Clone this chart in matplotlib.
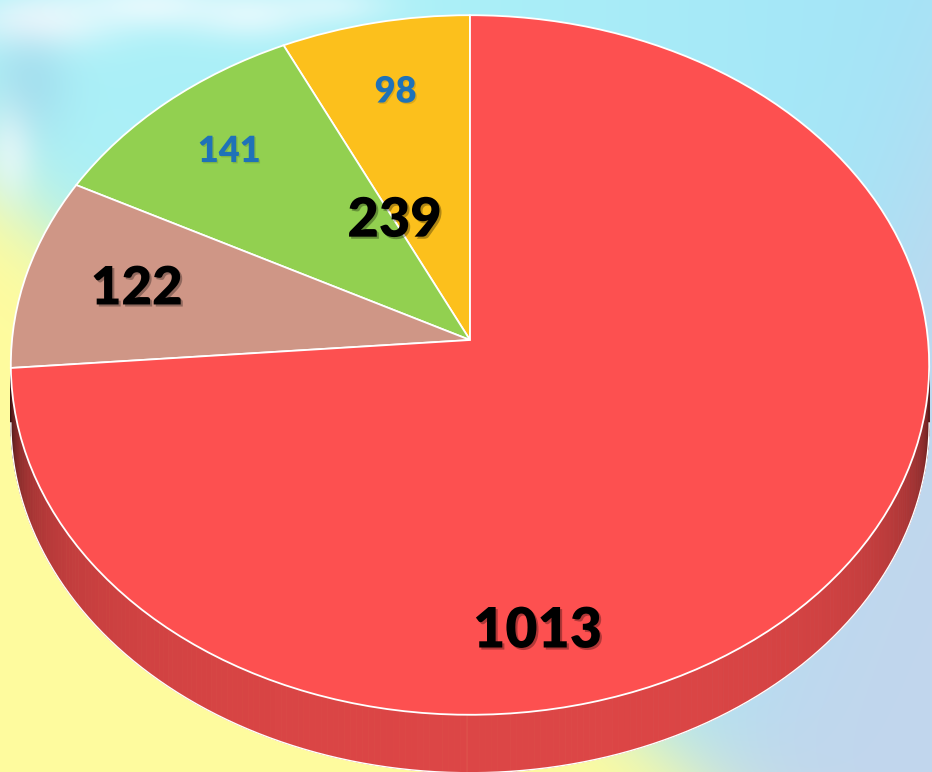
import numpy as np
import matplotlib
matplotlib.use("Agg")
import matplotlib.pyplot as plt
from matplotlib.transforms import Transform
from matplotlib.collections import PolyCollection
import matplotlib.patheffects as pe

# ---------------- data ----------------
values = [98, 141, 122, 1013]
labels = ["98", "141", "122", "1013"]
colors = ["#fcc01c", "#92d050", "#cf9686", "#fd5050"]
label_colors = ["#1f72b8", "#1f72b8", "#000000", "#000000"]
group_label = "239"          # 98 + 141

# ---------------- geometry (projection of the tilted disk) ----------------
W, H = 932, 772
CX, CY, RX, RY, K = 470.0, 340.0, 458.0, 348.0, 0.0714
DEPTH = 58.0


class Persp(Transform):
    input_dims = 2
    output_dims = 2
    is_separable = False
    has_inverse = False

    def transform_non_affine(self, v):
        v = np.asarray(v, dtype=float).reshape(-1, 2)
        x, y = v[:, 0], v[:, 1]
        d = 1.0 + K * y
        return np.column_stack([CX + RX * x / d, CY - RY * y / d])


persp = Persp()


def proj(r, theta_deg):
    t = np.deg2rad(theta_deg)
    return persp.transform(np.array([[r * np.cos(t), r * np.sin(t)]]))[0]


fig = plt.figure(figsize=(W / 100, H / 100), dpi=100)
ax = fig.add_axes([0, 0, 1, 1])

# ---------------- background ----------------
yy, xx = np.mgrid[0:H, 0:W].astype(float)
cyan = np.array([0.67, 0.94, 0.97])
sky = np.array([0.62, 0.87, 0.97])
yellow = np.array([1.0, 0.985, 0.62])
bluegrey = np.array([0.76, 0.84, 0.93])
img = np.ones((H, W, 3)) * cyan
wb = (np.clip((xx - 450) / 450, 0, 1) * 0.6)[..., None]
img = img * (1 - wb) + sky * wb
wg = (1 / (1 + np.exp(-((xx - 820) / 50 + (yy - 450) / 120))))[..., None]
img = img * (1 - wg) + bluegrey * wg
wy = (1 / (1 + np.exp(-(yy - 190 - 0.85 * xx) / 30)))[..., None]
img = img * (1 - wy) + yellow * wy
# clouds in upper-left
for (bx, by, sx, sy, a) in [(40, 20, 70, 30, 0.8), (150, 5, 80, 25, 0.7),
                            (250, 15, 60, 25, 0.6), (10, 150, 25, 50, 0.6),
                            (330, 5, 60, 20, 0.5)]:
    g = a * np.exp(-(((xx - bx) / sx) ** 2 + ((yy - by) / sy) ** 2))
    img = img * (1 - g[..., None]) + np.array([0.97, 0.99, 1.0]) * g[..., None]
shade = 0.25 * np.exp(-(((xx - 30) / 40) ** 2 + ((yy - 80) / 60) ** 2))
img = img * (1 - shade[..., None]) + np.array([0.55, 0.7, 0.85]) * shade[..., None]
ax.imshow(np.clip(img, 0, 1), extent=[0, W, H, 0], zorder=0, aspect="auto")

# ---------------- pie top ----------------
wedges, _ = ax.pie(values, colors=colors, startangle=90, counterclock=True,
                   wedgeprops=dict(edgecolor="white", linewidth=1.3))
for w in wedges:
    w.set_transform(persp + ax.transData)
    w.set_zorder(3)

# ---------------- side wall ----------------
total = float(sum(values))
bounds = 90 + 360 * np.concatenate([[0], np.cumsum(values)]) / total
t0 = 180 + np.degrees(np.arcsin(K))
t1 = 360 - np.degrees(np.arcsin(K))
ths = np.linspace(t0, t1, 240)
polys, fcs = [], []
for a, b in zip(ths[:-1], ths[1:]):
    pa, pb = proj(1, a), proj(1, b)
    polys.append([pa, pb, pb + [0, DEPTH], pa + [0, DEPTH]])
    mid = 0.5 * (a + b)
    idx = 0
    for i in range(len(values)):
        lo, hi = bounds[i], bounds[i + 1]
        if lo <= mid <= hi or lo <= mid + 360 <= hi:
            idx = i
    u = (mid - t0) / (t1 - t0)
    m = 0.89 * (1 - 0.55 * np.exp(-u / 0.05) - 0.35 * np.exp(-u / 0.16)
                - 0.6 * np.exp(-(1 - u) / 0.11))
    rgb = np.array(matplotlib.colors.to_rgb(colors[idx])) * max(m, 0.22)
    fcs.append(np.clip(rgb, 0, 1))
pc = PolyCollection(polys, facecolors=fcs, edgecolors=fcs, linewidths=0.6, zorder=2)
ax.add_collection(pc)
bottom = np.array([proj(1, t) + [0, DEPTH] for t in ths])
ax.plot(bottom[:, 0], bottom[:, 1], color="white", lw=1.0, zorder=2.5)

# ---------------- labels ----------------
font = ["Lato", "DejaVu Sans"]
shadow_dark = [pe.withSimplePatchShadow(offset=(1.5, -1.5), shadow_rgbFace="black", alpha=0.3)]
shadow_light = [pe.withSimplePatchShadow(offset=(1, -1), shadow_rgbFace="black", alpha=0.12)]
mids = 0.5 * (bounds[:-1] + bounds[1:])
label_pos = [(0.77, mids[0]), (0.785, mids[1]), (0.75, mids[2]), (0.80, 280.0)]
label_size = [26, 26, 38, 40]
label_fx = [shadow_light, shadow_light, shadow_dark, shadow_dark]
for lab, c, (r, th), fs, fx in zip(labels, label_colors, label_pos, label_size, label_fx):
    px, py = proj(r, th)
    ax.text(px, py, lab, color=c, fontsize=fs, fontweight="heavy", family=font,
            ha="center", va="center", zorder=5, path_effects=fx)
gx, gy = proj(0.39, bounds[1])
ax.text(gx, gy, group_label, color="black", fontsize=39, fontweight="heavy",
        family=font, ha="center", va="center", zorder=5, path_effects=shadow_dark)

ax.set_aspect("auto")
ax.set_xlim(0, W)
ax.set_ylim(H, 0)
ax.axis("off")
fig.savefig("out.png", dpi=100)
